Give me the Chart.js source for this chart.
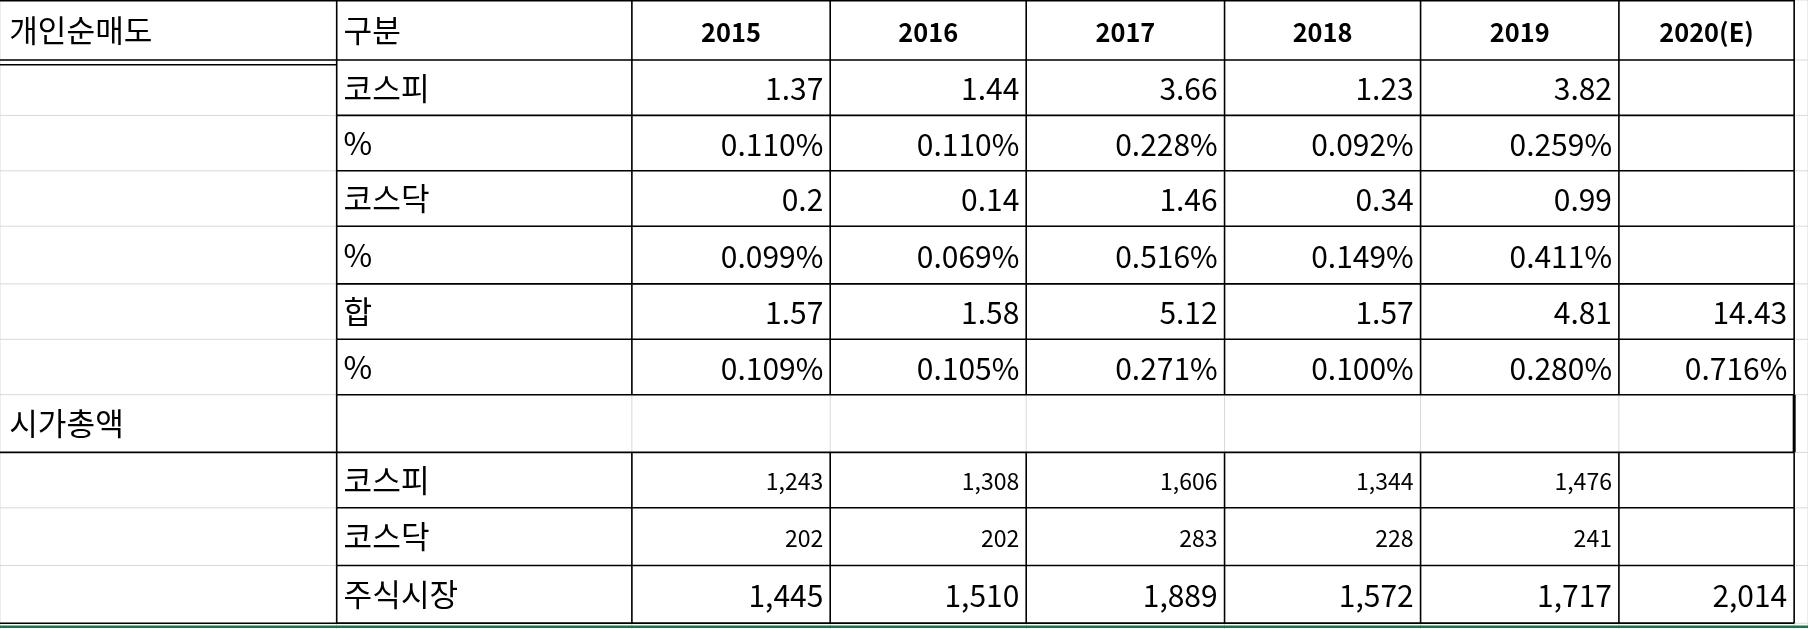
<!DOCTYPE html>
<html><head><meta charset="utf-8">
<script src="https://cdn.jsdelivr.net/npm/chart.js@4"></script>
<style>body{margin:0;background:#fff}canvas{display:block}</style>
</head><body>
<canvas id="c" width="1808" height="629"></canvas>
<script>
// table values
const years = ["2015", "2016", "2017", "2018", "2019", "2020(E)"];
const rowLabels = ["구분", "코스피", "%", "코스닥", "%", "합", "%", "", "코스피", "코스닥", "주식시장"];
const groupLabels = ["개인순매도", "시가총액"];
const kospiSell = [1.37, 1.44, 3.66, 1.23, 3.82, null];
const kospiPct = [0.110, 0.110, 0.228, 0.092, 0.259, null];
const kosdaqSell = [0.2, 0.14, 1.46, 0.34, 0.99, null];
const kosdaqPct = [0.099, 0.069, 0.516, 0.149, 0.411, null];
const sumSell = [1.57, 1.58, 5.12, 1.57, 4.81, 14.43];
const sumPct = [0.109, 0.105, 0.271, 0.100, 0.280, 0.716];
const capKospi = [1243, 1308, 1606, 1344, 1476, null];
const capKosdaq = [202, 202, 283, 228, 241, null];
const capTotal = [1445, 1510, 1889, 1572, 1717, 2014];

// layout (reference units)
const colEdges = [0, 292, 548, 720, 890, 1062, 1232, 1404, 1556];
const rowEdges = [0, 52, 100, 148, 196, 246, 294, 342, 392, 440, 490, 540];

const num = v => v == null ? "" : String(v);
const pct = v => v == null ? "" : v.toFixed(3) + "%";
const cap = v => v == null ? "" : v.toLocaleString("en-US");
const body = [
  [kospiSell, num, 26], [kospiPct, pct, 26], [kosdaqSell, num, 26], [kosdaqPct, pct, 26],
  [sumSell, num, 26], [sumPct, pct, 26], [null], [capKospi, cap, 20], [capKosdaq, cap, 20], [capTotal, cap, 26]
];

const points = [];
years.forEach((y, c) => body.forEach((r, i) => {
  if (r[0] && r[0][c] != null) points.push({x: colEdges[c + 3], y: (rowEdges[i + 1] + rowEdges[i + 2]) / 2, t: r[1](r[0][c]), s: r[2]});
}));

const FONT = "'Noto Sans CJK KR', 'Noto Sans', sans-serif";

const tablePlugin = {
  id: "table",
  afterDatasetsDraw(chart) {
    const ctx = chart.ctx, X = v => chart.scales.x.getPixelForValue(v), Y = v => chart.scales.y.getPixelForValue(v);
    const k = chart.width / 1568;
    const line = (x1, y1, x2, y2, col, w) => {
      ctx.strokeStyle = col; ctx.lineWidth = w; ctx.beginPath();
      ctx.moveTo(X(x1), Y(y1)); ctx.lineTo(X(x2), Y(y2)); ctx.stroke();
    };
    ctx.save();
    // excel gridlines
    colEdges.concat([1568]).forEach(x => line(x, 0, x, 545, "#d9d9d9", 1));
    rowEdges.forEach(y => line(0, y, 1568, y, "#d9d9d9", 1));
    // black borders
    rowEdges.forEach((y, i) => { if (i !== 8 || true) line(292, y, 1556, y, "#000", 1.6); });
    colEdges.slice(1).forEach((x, i) => {
      for (let r = 0; r < rowEdges.length - 1; r++) {
        if (r === 7 && x !== 292 && x !== 1556) continue;
        line(x, rowEdges[r], x, rowEdges[r + 1], "#000", (r === 7 && x === 1556) ? 3 : 1.6);
      }
    });
    line(0, 0, 1556, 0, "#000", 3);
    line(0, 52, 292, 52, "#000", 1.5); line(0, 56, 292, 56, "#000", 1.5);
    line(0, 392, 292, 392, "#000", 1.6);
    line(0, 540, 1556, 540, "#000", 1.6);
    line(0, 543, 1568, 543, "#217346", 2.5);
    // labels
    ctx.fillStyle = "#000"; ctx.textBaseline = "middle";
    ctx.font = (27 * k) + "px " + FONT; ctx.textAlign = "left";
    ctx.fillText(groupLabels[0], X(8), Y(26));
    ctx.fillText(groupLabels[1], X(8), Y(367));
    rowLabels.forEach((l, i) => ctx.fillText(l, X(298), Y((rowEdges[i] + rowEdges[i + 1]) / 2)));
    ctx.font = "bold " + (22 * k) + "px " + FONT; ctx.textAlign = "center";
    years.forEach((y, c) => ctx.fillText(y, X((colEdges[c + 2] + colEdges[c + 3]) / 2), Y(28)));
    ctx.textAlign = "right";
    chart.data.datasets[0].data.forEach(p => {
      ctx.font = (p.s * k) + "px " + FONT;
      ctx.fillText(p.t, X(p.x - 6), Y(p.y + 1));
    });
    ctx.restore();
  }
};

new Chart(document.getElementById("c"), {
  type: "scatter",
  data: {datasets: [{data: points, pointRadius: 0}]},
  options: {
    responsive: false, animation: false,
    layout: {padding: 0},
    plugins: {legend: {display: false}, tooltip: {enabled: false}},
    scales: {
      x: {type: "linear", min: 0, max: 1568, display: false},
      y: {type: "linear", min: 0, max: 545, reverse: true, display: false}
    }
  },
  plugins: [tablePlugin]
});
</script>
</body></html>
